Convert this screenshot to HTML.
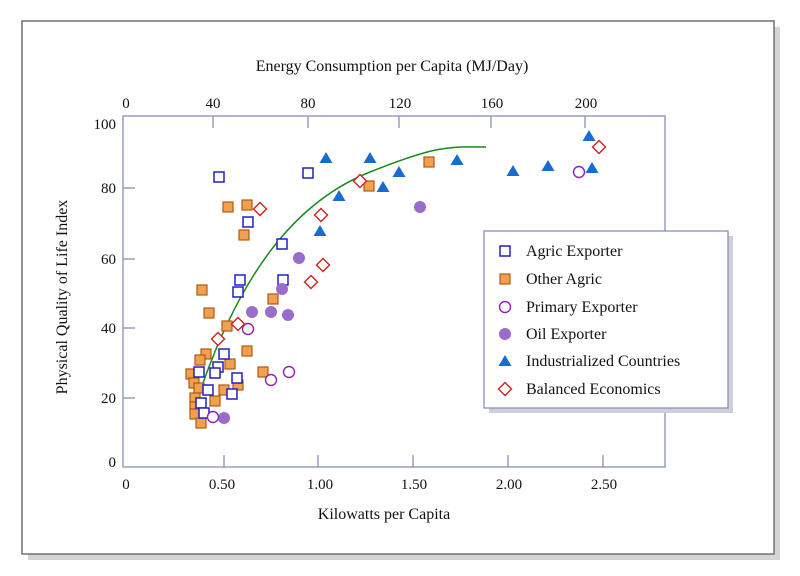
<!DOCTYPE html>
<html><head><meta charset="utf-8"><style>
html,body{margin:0;padding:0;background:#fff;}
svg{display:block;font-family:"Liberation Serif",serif;}
</style></head><body>
<svg width="800" height="576" viewBox="0 0 800 576">
<defs>
<rect id="sq" x="-5" y="-5" width="10" height="10"/>
<path id="tri" d="M0,-6 L6.5,5 L-6.5,5 Z"/>
<path id="dia" d="M0,-6.5 L6.5,0 L0,6.5 L-6.5,0 Z"/>
</defs>
<rect x="0" y="0" width="800" height="576" fill="#fff"/>
<rect x="28" y="27" width="752" height="533" fill="#d4d4d4"/>
<rect x="22" y="21" width="752" height="533" fill="#fff" stroke="#707070" stroke-width="1.5"/>
<rect x="123" y="116" width="542" height="351" fill="#fff" stroke="#8890b8" stroke-width="1.3"/>
<g stroke="#8890b8" stroke-width="1.3">
<line x1="224" y1="467" x2="224" y2="455"/><line x1="318" y1="467" x2="318" y2="455"/><line x1="413" y1="467" x2="413" y2="455"/><line x1="508" y1="467" x2="508" y2="455"/><line x1="603" y1="467" x2="603" y2="455"/>
<line x1="213" y1="116" x2="213" y2="128"/><line x1="308" y1="116" x2="308" y2="128"/><line x1="399" y1="116" x2="399" y2="128"/><line x1="491" y1="116" x2="491" y2="128"/><line x1="585" y1="116" x2="585" y2="128"/>
<line x1="123" y1="188" x2="135" y2="188"/><line x1="123" y1="259" x2="135" y2="259"/><line x1="123" y1="328" x2="135" y2="328"/><line x1="123" y1="398" x2="135" y2="398"/>
</g>
<g font-size="15" fill="#111" text-anchor="middle">
<text x="126" y="489">0</text><text x="222" y="489">0.50</text><text x="320" y="489">1.00</text><text x="414" y="489">1.50</text><text x="509" y="489">2.00</text><text x="604" y="489">2.50</text>
<text x="126" y="108">0</text><text x="213" y="108">40</text><text x="308" y="108">80</text><text x="400" y="108">120</text><text x="492" y="108">160</text><text x="586" y="108">200</text>
</g>
<g font-size="15" fill="#111" text-anchor="end">
<text x="116" y="129">100</text><text x="116" y="193">80</text><text x="116" y="264">60</text><text x="116" y="333">40</text><text x="116" y="403">20</text><text x="116" y="467">0</text>
</g>
<text x="392" y="71" font-size="16" text-anchor="middle" fill="#111">Energy Consumption per Capita (MJ/Day)</text>
<text x="384" y="519" font-size="16" text-anchor="middle" fill="#111">Kilowatts per Capita</text>
<text transform="translate(67,297) rotate(-90)" font-size="16" text-anchor="middle" fill="#111">Physical Quality of Life Index</text>
<path d="M203,383 C245,265 300,200 370,172 S 450,147 486,147" fill="none" stroke="#1a8a1a" stroke-width="1.5"/>
<g fill="#f0a050" stroke="#b05a10" stroke-width="1.2">
<use href="#sq" x="228" y="207"/><use href="#sq" x="247" y="205"/><use href="#sq" x="244" y="235"/><use href="#sq" x="202" y="290"/><use href="#sq" x="209" y="313"/><use href="#sq" x="273" y="299"/><use href="#sq" x="227" y="326"/><use href="#sq" x="247" y="351"/><use href="#sq" x="206" y="354"/><use href="#sq" x="200" y="360"/><use href="#sq" x="230" y="364"/><use href="#sq" x="263" y="372"/><use href="#sq" x="191" y="374"/><use href="#sq" x="194" y="383"/><use href="#sq" x="199" y="388"/><use href="#sq" x="238" y="385"/><use href="#sq" x="224" y="390"/><use href="#sq" x="215" y="401"/><use href="#sq" x="195" y="398"/><use href="#sq" x="195" y="407"/><use href="#sq" x="195" y="414"/><use href="#sq" x="201" y="423"/><use href="#sq" x="369" y="186"/><use href="#sq" x="429" y="162"/>
</g>
<g fill="#fff" stroke="#2020c0" stroke-width="1.5">
<use href="#sq" x="219" y="177"/><use href="#sq" x="308" y="173"/><use href="#sq" x="248" y="222"/><use href="#sq" x="282" y="244"/><use href="#sq" x="283" y="280"/><use href="#sq" x="240" y="280"/><use href="#sq" x="238" y="292"/><use href="#sq" x="224" y="354"/><use href="#sq" x="218" y="367"/><use href="#sq" x="215" y="373"/><use href="#sq" x="199" y="372"/><use href="#sq" x="237" y="378"/><use href="#sq" x="208" y="390"/><use href="#sq" x="232" y="394"/><use href="#sq" x="201" y="403"/><use href="#sq" x="204" y="413"/>
</g>
<g fill="#9a6ccc">
<circle cx="299" cy="258" r="6"/><circle cx="282" cy="289" r="6"/><circle cx="252" cy="312" r="6"/><circle cx="271" cy="312" r="6"/><circle cx="288" cy="315" r="6"/><circle cx="224" cy="418" r="6"/><circle cx="420" cy="207" r="6"/>
</g>
<g fill="#fff" stroke="#9020b0" stroke-width="1.4">
<circle cx="248" cy="329" r="5.5"/><circle cx="271" cy="380" r="5.5"/><circle cx="289" cy="372" r="5.5"/><circle cx="213" cy="417" r="5.5"/><circle cx="579" cy="172" r="5.5"/>
</g>
<g fill="#1a6ad0">
<use href="#tri" x="326" y="158"/><use href="#tri" x="370" y="158"/><use href="#tri" x="339" y="196"/><use href="#tri" x="320" y="231"/><use href="#tri" x="399" y="172"/><use href="#tri" x="383" y="187"/><use href="#tri" x="457" y="160"/><use href="#tri" x="513" y="171"/><use href="#tri" x="548" y="166"/><use href="#tri" x="589" y="136"/><use href="#tri" x="592" y="168"/>
</g>
<g fill="#fff" stroke="#d02020" stroke-width="1.4">
<use href="#dia" x="260" y="209"/><use href="#dia" x="321" y="215"/><use href="#dia" x="323" y="265"/><use href="#dia" x="311" y="282"/><use href="#dia" x="360" y="181"/><use href="#dia" x="238" y="324"/><use href="#dia" x="218" y="339"/><use href="#dia" x="599" y="147"/>
</g>
<rect x="489" y="236" width="244" height="177" fill="#ccd0dc"/>
<rect x="484" y="231" width="244" height="177" fill="#fff" stroke="#8890b8" stroke-width="1.3"/>
<use href="#sq" x="505" y="251" fill="#fff" stroke="#2020c0" stroke-width="1.5"/>
<use href="#sq" x="505" y="279" fill="#f0a050" stroke="#b05a10" stroke-width="1.2"/>
<circle cx="505" cy="307" r="5.5" fill="#fff" stroke="#9020b0" stroke-width="1.4"/>
<circle cx="505" cy="334" r="6" fill="#9a6ccc"/>
<use href="#tri" x="505" y="361" fill="#1a6ad0"/>
<use href="#dia" x="505" y="389" fill="#fff" stroke="#d02020" stroke-width="1.4"/>
<g font-size="16" fill="#111">
<text x="526" y="256">Agric Exporter</text><text x="526" y="284">Other Agric</text><text x="526" y="312">Primary Exporter</text><text x="526" y="339">Oil Exporter</text><text x="526" y="366">Industrialized Countries</text><text x="526" y="394">Balanced Economics</text>
</g>
</svg>
</body></html>
